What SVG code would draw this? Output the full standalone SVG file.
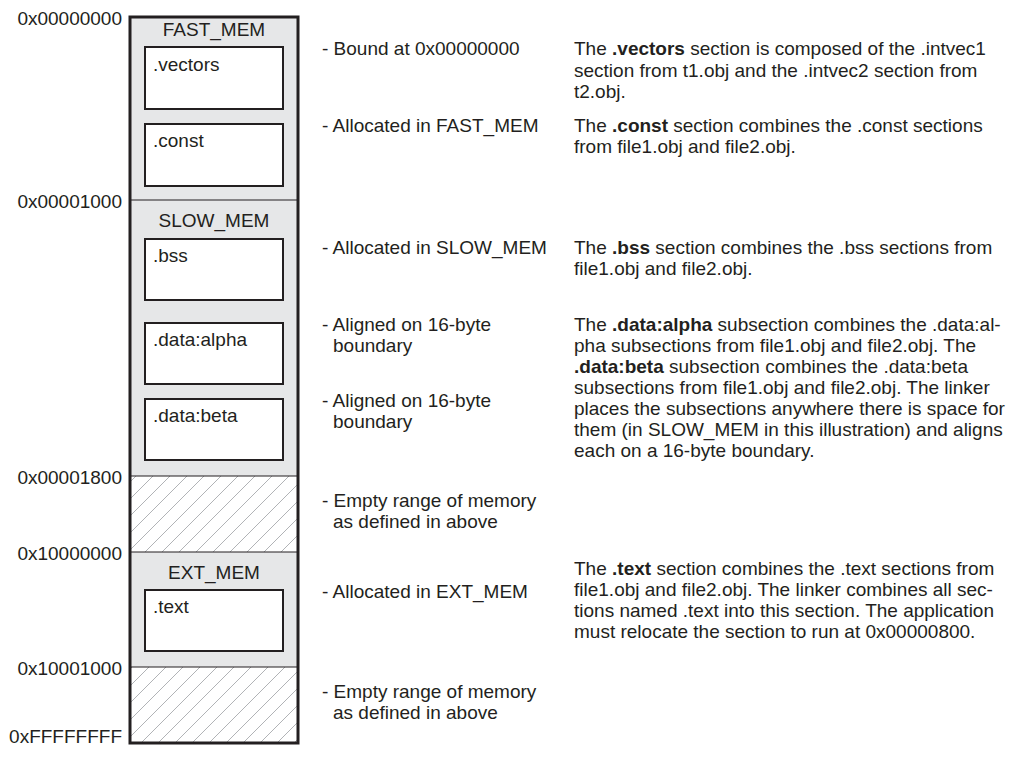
<svg xmlns="http://www.w3.org/2000/svg" width="1015" height="759" viewBox="0 0 1015 759">
<style>
text{font-family:"Liberation Sans",Arial,sans-serif;font-size:19px;fill:#231f20}
.addr{text-anchor:end}
.title{text-anchor:middle}
.b{font-weight:bold}
.region{fill:#e6e7e8;stroke:none}
.box{fill:#ffffff;stroke:#231f20;stroke-width:2}
.div{stroke:#231f20;stroke-width:1.2;fill:none}
</style>
<defs>
<pattern id="hatch" patternUnits="userSpaceOnUse" width="17" height="17">
<path d="M-2,19 L19,-2 M-2,2 L2,-2 M15,19 L19,15" stroke="#b1b3b6" stroke-width="1" fill="none"/>
</pattern>
</defs>
<rect x="0" y="0" width="1015" height="759" fill="#ffffff"/>
<g id="memory-map">
<g id="fast_mem">
<rect class="region" x="130" y="17" width="168" height="183"/>
<text class="title" x="214" y="36">FAST_MEM</text>
</g>
<g id="slow_mem">
<rect class="region" x="130" y="200" width="168" height="276"/>
<text class="title" x="214" y="227">SLOW_MEM</text>
</g>
<g id="empty1">
<rect x="130" y="476" width="168" height="76" fill="url(#hatch)"/>
</g>
<g id="ext_mem">
<rect class="region" x="130" y="552" width="168" height="115"/>
<text class="title" x="214" y="579">EXT_MEM</text>
</g>
<g id="empty2">
<rect x="130" y="667" width="168" height="76" fill="url(#hatch)"/>
</g>
<line class="div" x1="130" y1="200" x2="298" y2="200"/>
<line class="div" x1="130" y1="476" x2="298" y2="476"/>
<line class="div" x1="130" y1="552" x2="298" y2="552"/>
<line class="div" x1="130" y1="667" x2="298" y2="667"/>
<rect x="130" y="17" width="168" height="726" fill="none" stroke="#231f20" stroke-width="3"/>
</g>
<g id="sec-vectors">
<rect class="box" x="145" y="47" width="138" height="62"/>
<text x="153" y="71">.vectors</text>
</g>
<g id="sec-const">
<rect class="box" x="145" y="124" width="138" height="62"/>
<text x="153" y="147">.const</text>
</g>
<g id="sec-bss">
<rect class="box" x="145" y="239" width="138" height="61"/>
<text x="153" y="262">.bss</text>
</g>
<g id="sec-data-alpha">
<rect class="box" x="145" y="323" width="138" height="61"/>
<text x="153" y="346">.data:alpha</text>
</g>
<g id="sec-data-beta">
<rect class="box" x="145" y="399" width="138" height="61"/>
<text x="153" y="422">.data:beta</text>
</g>
<g id="sec-text">
<rect class="box" x="145" y="590" width="138" height="61"/>
<text x="153" y="613">.text</text>
</g>
<g id="addresses">
<text class="addr" x="122" y="25">0x00000000</text>
<text class="addr" x="122" y="208">0x00001000</text>
<text class="addr" x="122" y="484">0x00001800</text>
<text class="addr" x="122" y="560">0x10000000</text>
<text class="addr" x="122" y="675">0x10001000</text>
<text class="addr" x="122" y="743">0xFFFFFFFF</text>
</g>
<g id="notes">
<text x="322" y="55">- Bound at 0x00000000</text>
<text x="322" y="132">- Allocated in FAST_MEM</text>
<text x="322" y="254">- Allocated in SLOW_MEM</text>
<text x="322" y="331">- Aligned on 16-byte</text>
<text x="333" y="352">boundary</text>
<text x="322" y="407">- Aligned on 16-byte</text>
<text x="333" y="428">boundary</text>
<text x="322" y="507">- Empty range of memory</text>
<text x="333" y="528">as defined in above</text>
<text x="322" y="598">- Allocated in EXT_MEM</text>
<text x="322" y="698">- Empty range of memory</text>
<text x="333" y="719">as defined in above</text>
</g>
<g id="descriptions">
<text x="574" y="55">The <tspan class="b">.vectors</tspan> section is composed of the .intvec1</text>
<text x="574" y="77">section from t1.obj and the .intvec2 section from</text>
<text x="574" y="98">t2.obj.</text>
<text x="574" y="132">The <tspan class="b">.const</tspan> section combines the .const sections</text>
<text x="574" y="153">from file1.obj and file2.obj.</text>
<text x="574" y="254">The <tspan class="b">.bss</tspan> section combines the .bss sections from</text>
<text x="574" y="275">file1.obj and file2.obj.</text>
<text x="574" y="331">The <tspan class="b">.data:alpha</tspan> subsection combines the .data:al-</text>
<text x="574" y="352">pha subsections from file1.obj and file2.obj. The</text>
<text x="574" y="373"><tspan class="b">.data:beta</tspan> subsection combines the .data:beta</text>
<text x="574" y="394">subsections from file1.obj and file2.obj. The linker</text>
<text x="574" y="415">places the subsections anywhere there is space for</text>
<text x="574" y="436">them (in SLOW_MEM in this illustration) and aligns</text>
<text x="574" y="457">each on a 16-byte boundary.</text>
<text x="574" y="575">The <tspan class="b">.text</tspan> section combines the .text sections from</text>
<text x="574" y="596">file1.obj and file2.obj. The linker combines all sec-</text>
<text x="574" y="617">tions named .text into this section. The application</text>
<text x="574" y="638">must relocate the section to run at 0x00000800.</text>
</g>
</svg>
